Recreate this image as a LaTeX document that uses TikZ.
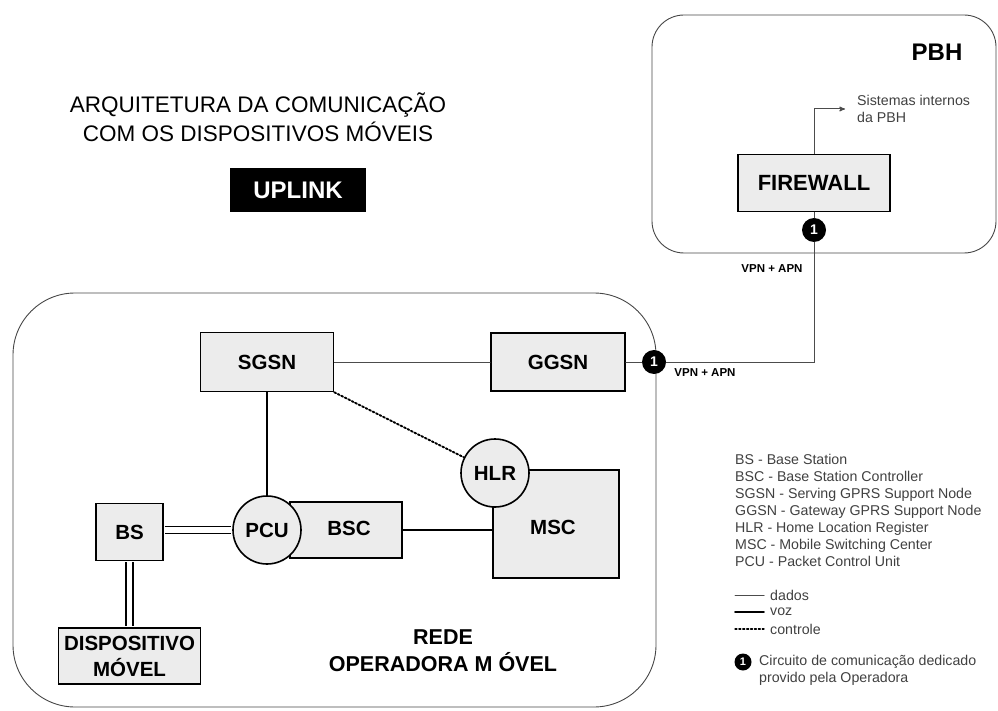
\documentclass[tikz,border=0pt]{standalone}
\usepackage{fontspec}
\setmainfont{Liberation Sans}
\tikzstyle{unit}=[rectangle,draw=black,line width=1.6pt,fill=gray!15,inner sep=0pt,
	font=\fontsize{20.5}{24}\selectfont\bfseries]
\tikzstyle{ring}=[unit,circle,minimum size=68pt]
\tikzstyle{marker}=[circle,fill=black,text=white,minimum size=24pt,inner sep=0pt,
	font=\fontsize{14}{14}\selectfont\bfseries]
\usetikzlibrary{arrows,positioning,shapes}

\begin{document}
\begin{tikzpicture}[x=1pt,y=-1pt,node distance=291pt,>=stealth',line cap=round]
	\tikzstyle{region}=[draw=gray!55!black,line width=0.9pt]
	\tikzstyle{dados}=[draw=gray!60!black,line width=1pt]
	\tikzstyle{voz}=[draw=black,line width=1.8pt]
	\tikzstyle{controle}=[draw=black,line width=1.9pt,dotted]
	\tikzstyle{duplo}=[draw=black,double=white,double distance=5.5pt,line width=1.4pt,
		line cap=butt,shorten <=0.8pt,shorten >=0.8pt]
	\tikzstyle{legenda}=[align=left,text=black!75,inner sep=0pt,font=\fontsize{14.2}{17}\selectfont]
	\tikzstyle{tag}=[inner sep=0pt,font=\fontsize{11.5}{12}\selectfont\bfseries]

		\useasboundingbox (0,0) rectangle (998,711);

		% cabecalho
		\node[align=center,font=\fontsize{22.5}{29}\selectfont] (title) at (258,117)
			{ARQUITETURA DA COMUNICAÇÃO\\COM OS DISPOSITIVOS MÓVEIS};
		\node[fill=black,text=white,minimum width=136pt,minimum height=44pt,
			font=\fontsize{24}{24}\selectfont\bfseries] (uplink) at (298,190) {UPLINK};

		% PBH
		\draw[region,rounded corners=32pt] (652,15) rectangle (996,253);
		\node[font=\fontsize{24}{24}\selectfont\bfseries] (pbh) at (937,52) {PBH};
		\node[unit,minimum width=152pt,minimum height=57pt,
			font=\fontsize{22}{24}\selectfont\bfseries] (fw) at (814,183) {FIREWALL};
		\node[legenda,anchor=west] (sist) at (857,109) {Sistemas internos\\da PBH};
		\draw[dados,->] (fw.north) |- ([xshift=-12pt]sist.west);
		\node[marker] (one) at (814,230) {1};
		\draw[dados] (fw) -- (one);
		\node[tag] (vpn) at (772,269) {VPN + APN};

		% rede operadora
		\draw[region,rounded corners=62pt] (13,293) rectangle (656,707);
		\node[unit,minimum width=133pt,minimum height=59pt] (sgsn) at (267,362) {SGSN};
		\node[unit,minimum width=134pt,minimum height=58pt,right of=sgsn] (ggsn) {GGSN};
		\node[unit,minimum width=126pt,minimum height=108pt] (msc) at (556,524) {};
		\node[font=\fontsize{20.5}{24}\selectfont\bfseries] at (553,527) {MSC};
		\node[ring] (hlr) at (495,473) {HLR};
		\node[unit,minimum width=112pt,minimum height=56pt] (bsc) at (346,530) {};
		\node[font=\fontsize{20.5}{24}\selectfont\bfseries] at (349,528) {BSC};
		\node[ring] (pcu) at (267,530) {PCU};
		\node[unit,minimum width=67pt,minimum height=57pt] (bs) at (129.5,532) {BS};
		\node[unit,minimum width=142pt,minimum height=56pt,align=center,
			font=\fontsize{20.5}{26}\selectfont\bfseries] (disp) at (129.5,656) {DISPOSITIVO\\MÓVEL};
		\node[align=center,font=\fontsize{21.5}{27}\selectfont\bfseries] (rede) at (443,651)
			{REDE\\OPERADORA M ÓVEL};

		\node[marker] (two) at (654,362) {1};
		\node[tag] (vpn2) at (705,373) {VPN + APN};

		\path[dados] (sgsn) edge (ggsn);
		\path[dados] (ggsn) edge (two);
		\draw[dados] (two) -| (one);
		\path[voz] (sgsn) edge (pcu);
		\path[controle] (sgsn.south east) edge (hlr);
		\draw[voz] (bsc.east) -- (bsc.east -| msc.west);
		\draw[duplo] (bs.east |- pcu.west) -- (pcu.west);
		\draw[duplo] (bs.south) -- (disp.north);

		% legenda
		\node[legenda,anchor=north west] (siglas) at (735,454) {BS - Base Station\\
			BSC - Base Station Controller\\
			SGSN - Serving GPRS Support Node\\
			GGSN - Gateway GPRS Support Node\\
			HLR - Home Location Register\\
			MSC - Mobile Switching Center\\
			PCU - Packet Control Unit};
		\node[legenda,anchor=west] (ldados) at (770,595) {dados};
		\node[legenda,anchor=west] (lvoz) at (770,612) {voz};
		\node[legenda,anchor=west] (lctrl) at (770,629) {controle};
		\coordinate (adados) at (735,595);
		\coordinate (avoz) at (735,612);
		\coordinate (actrl) at (735,629);
		\draw[dados] (adados) -- ([xshift=-6pt]ldados.west);
		\draw[voz] (avoz) -- ([xshift=-6pt]lvoz.west);
		\draw[controle,line width=1.3pt] (actrl) -- ([xshift=-6pt]lctrl.west);
		\node[marker,minimum size=17pt,font=\fontsize{11}{11}\selectfont\bfseries] (three) at (743,662) {1};
		\node[legenda,anchor=west] (circ) at (759,670.5)
			{Circuito de comunicação dedicado\\provido pela Operadora};
	\end{tikzpicture}
\end{document}
